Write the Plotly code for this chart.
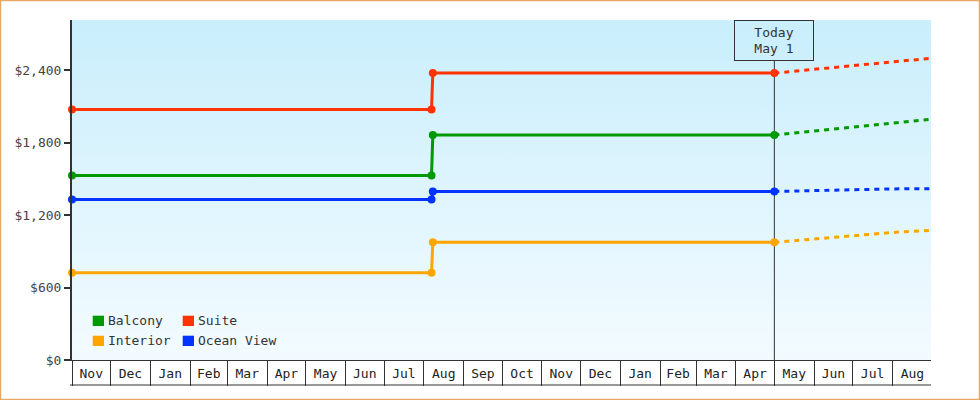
import plotly.graph_objects as go

# ---------------- data ----------------
series_names = ["Balcony", "Suite", "Interior", "Ocean View"]
series_colors = ["#009900", "#ff3300", "#ffa500", "#0033ff"]

hist_dates = ["2023-11-01", "2024-08-07", "2024-08-08", "2025-05-01"]
balcony_hist = [1530, 1530, 1864, 1864]
suite_hist = [2077, 2077, 2378, 2378]
interior_hist = [723, 723, 975, 975]
ocean_hist = [1331, 1331, 1397, 1397]

fc_dates = ["2025-05-01", "2025-06-01", "2025-07-01", "2025-08-01", "2025-08-31"]
balcony_fc = [1864, 1898, 1931, 1960, 1995]
suite_fc = [2378, 2408, 2441, 2470, 2501]
interior_fc = [975, 1003, 1032, 1057, 1075]
ocean_fc = [1397, 1406, 1414, 1418, 1420]

y_ticks = [0, 600, 1200, 1800, 2400]
y_tick_labels = ["$0", "$600", "$1,200", "$1,800", "$2,400"]
x_range = ["2023-11-01", "2025-08-31"]
y_range = [0, 2818]
today = "2025-05-01"
today_label = "Today<br>May 1"

# ---------------- layout constants ----------------
W, H = 980, 400
L, R, T, B = 72, 49, 20, 40
PW, PH = W - L - R, H - T - B
FONT = "DejaVu Sans Mono"
AXIS_COL = "#333333"
CELL_H = 25
BOX_W, BOX_H = 80, 41


def pxx(xp):
    return (xp - L) / PW


def pxy(yp):
    return (T + PH - yp) / PH


hist = [balcony_hist, suite_hist, interior_hist, ocean_hist]
fc = [balcony_fc, suite_fc, interior_fc, ocean_fc]

fig = go.Figure()

# background gradient
fig.add_trace(go.Scatter(
    x=[x_range[0], x_range[1], x_range[1], x_range[0], x_range[0]],
    y=[y_range[0], y_range[0], y_range[1], y_range[1], y_range[0]],
    mode="lines", line=dict(width=0), fill="toself",
    fillgradient=dict(type="vertical",
                      colorscale=[[0, "#f3fbff"], [1, "#c9eefc"]]),
    hoverinfo="skip", showlegend=False))

# today line (below series markers)
fig.add_trace(go.Scatter(
    x=[today, today], y=[y_range[0], y_range[1] * (1 - BOX_H / PH)],
    mode="lines", line=dict(color=AXIS_COL, width=1),
    hoverinfo="skip", showlegend=False))

for name, col, h, f in zip(series_names, series_colors, hist, fc):
    fig.add_trace(go.Scatter(
        x=fc_dates, y=f, mode="lines",
        line=dict(color=col, width=3, dash="5px,5px"),
        showlegend=False, hoverinfo="skip"))
    fig.add_trace(go.Scatter(
        x=hist_dates, y=h, mode="lines+markers", name=name,
        line=dict(color=col, width=3),
        marker=dict(color=col, size=8, symbol="circle"),
        cliponaxis=False, showlegend=False))

shapes = []
annotations = []

# bottom line of the month cells
shapes.append(dict(type="line", xref="paper", yref="paper",
                   x0=pxx(L - 2), x1=1, y0=pxy(T + PH + CELL_H), y1=pxy(T + PH + CELL_H),
                   line=dict(color=AXIS_COL, width=1)))

# frame
shapes.append(dict(type="rect", xref="paper", yref="paper",
                   x0=pxx(0.5), x1=pxx(W - 0.5), y0=pxy(H - 0.5), y1=pxy(0.5),
                   line=dict(color="#e8a964", width=1.5)))

# today box
annotations.append(dict(x=today, xref="x", y=1, yref="paper", yanchor="top",
                        xanchor="center", text=today_label, showarrow=False,
                        width=BOX_W - 2, height=BOX_H - 2, borderpad=0,
                        bordercolor=AXIS_COL, borderwidth=1,
                        font=dict(family=FONT, size=13, color="#333333")))

# legend (manual, 2 columns)
legend_pos = [(92.7, 315.7), (182.7, 315.7), (92.7, 335.7), (182.7, 335.7)]
for name, col, (lx, ly) in zip(series_names, series_colors, legend_pos):
    shapes.append(dict(type="rect", xref="paper", yref="paper",
                       x0=pxx(lx), x1=pxx(lx + 11.3), y0=pxy(ly + 10.3), y1=pxy(ly),
                       fillcolor=col, line=dict(width=0)))
    annotations.append(dict(x=pxx(lx + 13.5), y=pxy(ly + 5.2), xref="paper", yref="paper",
                            xanchor="left", yanchor="middle", text=name, showarrow=False,
                            font=dict(family=FONT, size=13, color="#333333")))

fig.update_layout(
    width=W, height=H,
    margin=dict(l=L, r=R, t=T, b=B, pad=0),
    paper_bgcolor="white", plot_bgcolor="white",
    showlegend=False, hovermode=False,
    shapes=shapes, annotations=annotations,
    xaxis=dict(type="date", range=x_range, dtick="M1", tick0="2023-11-01",
               tickformat="%b", ticklabelmode="period",
               ticks="outside", ticklen=CELL_H, tickwidth=1, tickcolor=AXIS_COL,
               ticklabelstandoff=-24,
               showline=True, linecolor=AXIS_COL, linewidth=1,
               showgrid=False, zeroline=False,
               tickfont=dict(family=FONT, size=13, color="#222222")),
    yaxis=dict(range=y_range, tickvals=y_ticks, ticktext=y_tick_labels,
               ticks="outside", ticklen=6, tickwidth=2, tickcolor=AXIS_COL,
               showline=True, linecolor=AXIS_COL, linewidth=2,
               showgrid=False, zeroline=False,
               tickfont=dict(family=FONT, size=13, color="#444444")),
)

fig.write_html("out.html", config={"displayModeBar": False},
               post_script="document.body.style.margin='0';document.body.style.overflow='hidden';")
